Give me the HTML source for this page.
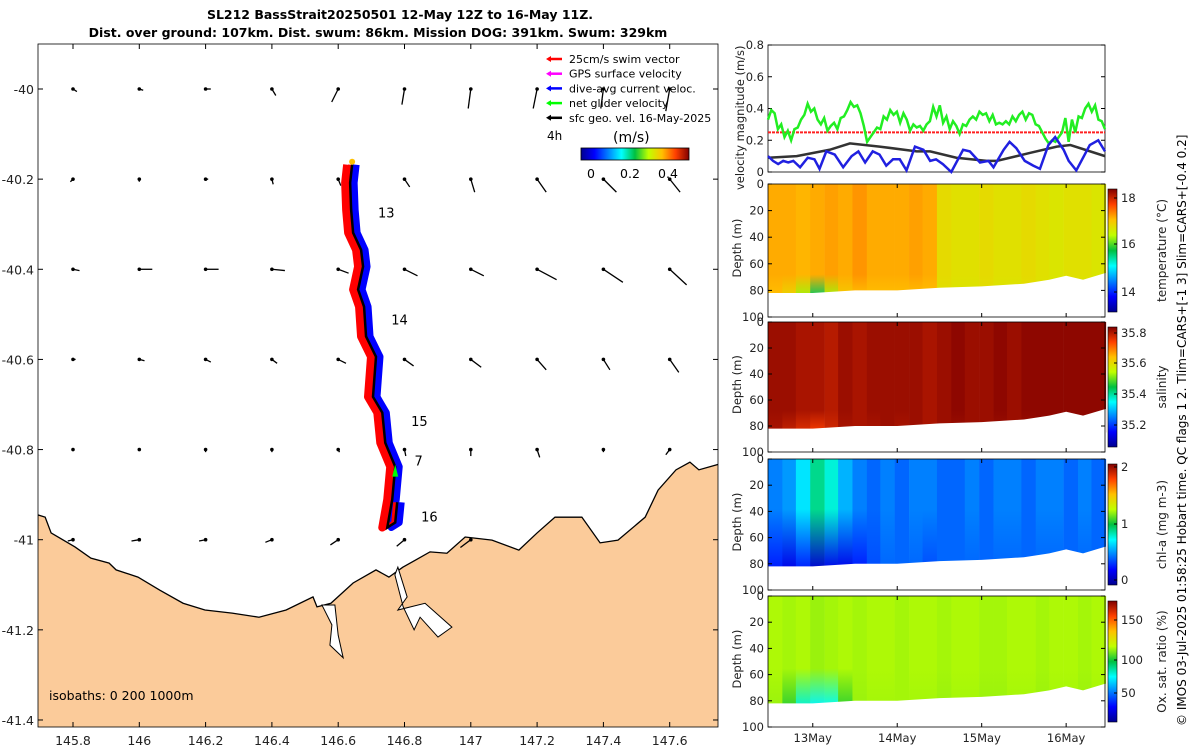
<!DOCTYPE html>
<html><head><meta charset="utf-8"><style>
body{margin:0;background:#fff;}
svg{display:block;font-family:"DejaVu Sans","Liberation Sans",sans-serif;}
</style></head><body>
<svg id="fig" width="1200" height="750" viewBox="0 0 1200 750" xmlns="http://www.w3.org/2000/svg">
<defs>
<linearGradient id="jet" x1="0" x2="1" y1="0" y2="0">
<stop offset="0" stop-color="#00008f"/><stop offset="0.125" stop-color="#0000ff"/><stop offset="0.375" stop-color="#00ffff"/><stop offset="0.5" stop-color="#00c040"/><stop offset="0.625" stop-color="#c0ff00"/><stop offset="0.75" stop-color="#ffc000"/><stop offset="0.875" stop-color="#ff4000"/><stop offset="1" stop-color="#800000"/>
</linearGradient>
<linearGradient id="jetv" x1="0" x2="0" y1="1" y2="0">
<stop offset="0" stop-color="#00008f"/><stop offset="0.125" stop-color="#0000ff"/><stop offset="0.375" stop-color="#00ffff"/><stop offset="0.5" stop-color="#00c040"/><stop offset="0.625" stop-color="#c0ff00"/><stop offset="0.75" stop-color="#ffc000"/><stop offset="0.875" stop-color="#ff4000"/><stop offset="1" stop-color="#800000"/>
</linearGradient>
<clipPath id="mapclip"><rect x="38" y="44" width="680" height="683"/></clipPath>
</defs>
<text x="400" y="19" font-size="12.5" font-weight="bold" text-anchor="middle">SL212 BassStrait20250501 12-May 12Z to 16-May 11Z.</text>
<text x="378" y="37" font-size="12.5" font-weight="bold" text-anchor="middle">Dist. over ground: 107km. Dist. swum: 86km. Mission DOG: 391km. Swum: 329km</text>
<g id="map"></g>
<g id="right"></g>
<text transform="translate(1186,726) rotate(-90)" font-size="12">© IMOS 03-Jul-2025 01:58:25 Hobart time. QC flags 1  2. Tlim=CARS+[-1 3] Slim=CARS+[-0.4 0.2]</text>
</svg>
<script>
// ---------- data ----------
const lonTicks=[145.8,146,146.2,146.4,146.6,146.8,147,147.2,147.4,147.6];
const latTicks=[-40,-40.2,-40.4,-40.6,-40.8,-41,-41.2,-41.4];
const arrowLons=[145.8,146,146.2,146.4,146.6,146.8,147,147.2,147.4,147.6];
const arrowLats=[-40,-40.2,-40.4,-40.6,-40.8,-41];
const arrowU=[[-0.03,-0.03,-0.04,-0.03,0.05,0.02,0.02,0.03,0.02,0.03],[0.02,0,-0.02,-0.01,-0.02,-0.04,-0.03,-0.07,-0.1,-0.08],[-0.05,-0.1,-0.1,-0.1,-0.08,-0.1,-0.1,-0.15,-0.15,-0.13],[-0.02,-0.04,-0.04,-0.04,-0.06,-0.07,-0.08,-0.07,-0.05,-0.07],[0,0,0,0,-0.01,-0.01,0,-0.02,0,0.03],[0.04,0.06,0.05,0.05,0.06,0.06,0.08,0,0,0]];
const arrowV=[[0.02,0.01,0,0.05,0.1,0.12,0.15,0.15,0.15,0.17],[0.02,0.02,0,0.04,0.05,0.06,0.1,0.1,0.1,0.1],[0.01,0,0,0.01,0.03,0.05,0.05,0.08,0.1,0.12],[0,0.01,0.02,0.03,0.03,0.05,0.06,0.08,0.08,0.1],[0.01,0.01,0.02,0.02,0.02,0.05,0.05,0.06,0.02,0.04],[0.01,0.01,0.01,0.02,0.04,0.05,0.06,0,0,0]];
const coastLon=[145.694,145.716,145.734,145.806,145.854,145.909,145.930,145.996,146.062,146.132,146.198,146.280,146.361,146.443,146.524,146.536,146.578,146.645,146.714,146.753,146.795,146.834,146.877,146.928,146.983,147.064,147.145,147.200,147.254,147.335,147.390,147.444,147.526,147.565,147.619,147.661,147.688,147.76];
const coastLat=[-40.945,-40.950,-40.985,-41.016,-41.041,-41.052,-41.067,-41.083,-41.112,-41.141,-41.156,-41.163,-41.172,-41.156,-41.127,-41.149,-41.141,-41.096,-41.067,-41.083,-41.061,-41.045,-41.027,-41.030,-40.994,-41.001,-41.023,-40.985,-40.950,-40.950,-41.007,-41.001,-40.950,-40.890,-40.845,-40.828,-40.845,-40.83];
const estLon=[146.771,146.780,146.808,146.780,146.862,146.943,146.901,146.847,146.829,146.796];
const estLat=[-41.078,-41.061,-41.127,-41.156,-41.141,-41.194,-41.216,-41.172,-41.200,-41.149];
const inletLon=[146.551,146.581,146.575,146.615,146.600,146.590];
const inletLat=[-41.145,-41.189,-41.234,-41.262,-41.212,-41.145];
const trackLon=[146.642,146.636,146.639,146.645,146.669,146.675,146.66,146.678,146.684,146.714,146.705,146.733,146.742,146.772,146.763,146.748,146.772,146.778];
const trackLat=[-40.168,-40.208,-40.268,-40.319,-40.357,-40.394,-40.445,-40.483,-40.549,-40.594,-40.683,-40.718,-40.785,-40.838,-40.911,-40.973,-40.962,-40.917];
const dayLabels=["13","14","15","7","16"];
const dayLon=[146.72,146.76,146.82,146.83,146.85];
const dayLat=[-40.285,-40.522,-40.748,-40.835,-40.96];

const tStart=12.47,tEnd=16.46;
const greenV=[0.33,0.39,0.37,0.27,0.3,0.22,0.26,0.2,0.27,0.28,0.33,0.36,0.43,0.38,0.4,0.33,0.3,0.34,0.26,0.29,0.31,0.27,0.34,0.35,0.39,0.44,0.41,0.42,0.37,0.29,0.19,0.22,0.25,0.28,0.27,0.35,0.33,0.39,0.36,0.38,0.31,0.37,0.33,0.26,0.3,0.28,0.29,0.26,0.3,0.32,0.41,0.35,0.42,0.31,0.35,0.27,0.32,0.29,0.24,0.3,0.29,0.33,0.35,0.33,0.38,0.36,0.37,0.32,0.36,0.3,0.31,0.3,0.32,0.3,0.35,0.32,0.36,0.38,0.33,0.37,0.36,0.3,0.29,0.25,0.21,0.18,0.2,0.19,0.22,0.25,0.34,0.19,0.33,0.25,0.35,0.34,0.4,0.43,0.38,0.42,0.33,0.32,0.27];
const blueT=[12.47,12.53,12.59,12.65,12.71,12.77,12.85,12.94,13.02,13.08,13.16,13.26,13.36,13.46,13.54,13.62,13.71,13.79,13.87,13.95,14.03,14.11,14.21,14.31,14.39,14.46,14.54,14.64,14.78,14.86,14.98,15.08,15.14,15.26,15.33,15.41,15.51,15.61,15.69,15.79,15.87,15.97,16.03,16.12,16.22,16.28,16.38,16.46];
const blueV=[0.1,0.07,0.05,0.07,0.06,0.07,0.03,0.09,0.08,0.02,0.13,0.11,0.03,0.1,0.13,0.06,0.13,0.11,0.04,0.08,0.08,0.01,0.16,0.14,0.07,0.08,0.05,0.0,0.14,0.13,0.06,0.07,0.03,0.14,0.19,0.15,0.07,0.04,0.02,0.17,0.22,0.14,0.07,0.01,0.11,0.17,0.2,0.13];
const blackT=[12.47,12.81,13.2,13.44,13.79,14.23,14.39,14.7,15.06,15.18,15.57,15.89,16.05,16.46];
const blackV=[0.09,0.1,0.14,0.18,0.16,0.13,0.13,0.09,0.07,0.07,0.12,0.16,0.17,0.1];
const swimV=0.25;
const velTicks=[0,0.2,0.4,0.6,0.8];
const dateTicks=[13,14,15,16];
const dateLabels=["13May","14May","15May","16May"];

const colT=[12.47,12.64,12.8,12.97,13.14,13.3,13.47,13.64,13.8,13.97,14.14,14.3,14.47,14.64,14.8,14.97,15.14,15.3,15.47,15.64,15.8,15.97,16.14,16.3];
const tempTop=[17.2,17.2,17.15,17.2,17.25,17.2,17.3,17.2,17.2,17.2,17.25,17.2,16.85,16.8,16.8,16.85,16.8,16.8,16.85,16.8,16.75,16.8,16.8,16.75];
const tempBot=[17.1,16.9,16.4,15.8,16.4,17.0,17.1,17.1,17.1,17.1,17.1,17.1,16.8,16.75,16.75,16.8,16.75,16.75,16.8,16.75,16.7,16.75,16.7,16.7];
const salTop=[35.83,35.83,35.82,35.82,35.81,35.83,35.82,35.83,35.83,35.83,35.83,35.82,35.83,35.84,35.83,35.83,35.84,35.83,35.84,35.84,35.84,35.84,35.84,35.84];
const salBot=[35.82,35.8,35.78,35.76,35.79,35.82,35.82,35.82,35.83,35.82,35.83,35.82,35.83,35.83,35.83,35.83,35.83,35.83,35.83,35.84,35.84,35.84,35.84,35.84];
const chlTop=[0.5,0.55,0.7,0.9,0.8,0.6,0.5,0.45,0.5,0.45,0.5,0.5,0.45,0.45,0.5,0.45,0.5,0.5,0.45,0.5,0.5,0.45,0.5,0.45];
const chlBot=[0.3,0.2,0.3,0.15,0.2,0.2,0.3,0.4,0.45,0.45,0.45,0.4,0.45,0.45,0.45,0.45,0.45,0.45,0.45,0.45,0.45,0.45,0.45,0.45];
const oxTop=[117,116,117,115,116,117,116,117,117,116,117,117,116,117,117,116,116,117,117,116,117,117,116,117];
const oxBot=[115,105,85,80,82,105,115,116,116,116,116,116,115,116,116,115,115,116,116,115,116,116,115,116];
const floorT=[12.47,13.0,13.5,14.0,14.5,15.0,15.5,15.8,16.0,16.2,16.46];
const floorD=[82,82,80,80,78,77,75,72,69,72,67];
const depthTicks=[0,20,40,60,80,100];

// ---------- helpers ----------
const NS="http://www.w3.org/2000/svg";
function mk(tag,attrs,parent){const e=document.createElementNS(NS,tag);for(const k in attrs)e.setAttribute(k,attrs[k]);parent.appendChild(e);return e;}
function jet(f){f=Math.max(0,Math.min(1,f));const st=[[0,0,0,143],[0.125,0,0,255],[0.375,0,255,255],[0.5,0,192,64],[0.625,192,255,0],[0.75,255,192,0],[0.875,255,64,0],[1,128,0,0]];
for(let i=1;i<st.length;i++){if(f<=st[i][0]){const a=st[i-1],b=st[i],u=(f-a[0])/(b[0]-a[0]);return `rgb(${Math.round(a[1]+u*(b[1]-a[1]))},${Math.round(a[2]+u*(b[2]-a[2]))},${Math.round(a[3]+u*(b[3]-a[3]))})`;}}return "rgb(128,0,0)";}

// ---------- map ----------
const map=document.getElementById('map');
const mx=lon=>73+(lon-145.8)*331.5, my=lat=>89+(-40-lat)*450.7;
const mg=mk('g',{'clip-path':'url(#mapclip)'},map);
mk('rect',{x:38,y:44,width:680,height:683,fill:'#fff'},mg);
let cp=coastLon.map((l,i)=>mx(l)+','+my(coastLat[i])).join(' ');
cp+=' 725,730 35,730';
const land=mk('polygon',{points:cp,fill:'#fbcb9a',stroke:'#000','stroke-width':1.3},mg);


const est=mk('polygon',{points:estLon.map((l,i)=>mx(l)+','+my(estLat[i])).join(' '),fill:'#fff',stroke:'#000','stroke-width':1},mg);


const inl=mk('polygon',{points:inletLon.map((l,i)=>mx(l)+','+my(inletLat[i])).join(' '),fill:'#fff',stroke:'#000','stroke-width':1},mg);


// arrows
arrowLats.forEach((la,r)=>arrowLons.forEach((lo,c)=>{
  const u=arrowU[r][c],v=arrowV[r][c]; if(u===0&&v===0)return;
  const x=mx(lo),y=my(la),dx=u*130,dy=-v*130;
  const a=mk('g',{},mg);
  
  
  mk('line',{x1:x-dx,y1:y-dy,x2:x,y2:y,stroke:'#000','stroke-width':1.3},a);
  mk('circle',{cx:x,cy:y,r:1.8,fill:'#000'},a);
}));
// track bands
const tp=trackLon.map((l,i)=>[mx(l),my(trackLat[i])]);
const red=mk('polyline',{points:tp.map(p=>(p[0]-5)+','+p[1]).join(' '),fill:'none',stroke:'#ff0000','stroke-width':8,'stroke-linejoin':'round'},mg);


const blue=mk('polyline',{points:tp.map(p=>(p[0]+4)+','+p[1]).join(' '),fill:'none',stroke:'#0000ff','stroke-width':7,'stroke-linejoin':'round'},mg);


mk('polyline',{points:tp.map(p=>(p[0]-2)+','+p[1]).join(' '),fill:'none',stroke:'#ff0000','stroke-width':4},mg);
const trk=mk('polyline',{points:tp.map(p=>p.join(',')).join(' '),fill:'none',stroke:'#000','stroke-width':2.5},mg);


mk('polygon',{points:`${tp[13][0]-3},${tp[13][1]+10} ${tp[13][0]},${tp[13][1]-2} ${tp[13][0]+3},${tp[13][1]+10}`,fill:'#00ff00'},mg);
mk('circle',{cx:tp[0][0],cy:tp[0][1]-3,r:3,fill:'#ffc000'},mg);
dayLabels.forEach((d,i)=>{const t=mk('text',{x:mx(dayLon[i]),y:my(dayLat[i]),'font-size':13},mg);t.textContent=d;

});
const iso=mk('text',{x:49,y:700,'font-size':12.5},mg);iso.textContent='isobaths: 0   200  1000m';


// legend
const leg=[['#ff0000','25cm/s swim vector'],['#ff00ff','GPS surface velocity'],['#0000ff','dive-avg current veloc.'],['#00ff00','net glider velocity'],['#000','sfc geo. vel. 16-May-2025']];
leg.forEach((l,i)=>{const g=mk('g',{},map);


const y=63+i*14.7;mk('line',{x1:548,y1:y-4,x2:562,y2:y-4,stroke:l[0],'stroke-width':2.5},g);
mk('polygon',{points:`546,${y-4} 551,${y-7} 551,${y-1}`,fill:l[0]},g);
const t=mk('text',{x:569,y:y,'font-size':11},g);t.textContent=l[1];});
let t4=mk('text',{x:547,y:140,'font-size':12},map);t4.textContent='4h';
let tu=mk('text',{x:613,y:142,'font-size':14},map);tu.textContent='(m/s)';
const cb=mk('rect',{x:581,y:148,width:108,height:12,fill:'url(#jet)',stroke:'#000','stroke-width':0.8},map);


[['0',591],['0.2',630],['0.4',668]].forEach(a=>{const t=mk('text',{x:a[1],y:178,'font-size':12.5,'text-anchor':'middle'},map);t.textContent=a[0];});
// axes
mk('rect',{x:38,y:44,width:680,height:683,fill:'none',stroke:'#000','stroke-width':0.8},map);
lonTicks.forEach(l=>{const x=mx(l);mk('line',{x1:x,y1:727,x2:x,y2:722,stroke:'#000'},map);mk('line',{x1:x,y1:44,x2:x,y2:49,stroke:'#000'},map);
const t=mk('text',{x:x,y:745,'font-size':12.5,'text-anchor':'middle',fill:'#222'},map);t.textContent=String(l);

});
latTicks.forEach(l=>{const y=my(l);mk('line',{x1:38,y1:y,x2:43,y2:y,stroke:'#000'},map);mk('line',{x1:718,y1:y,x2:713,y2:y,stroke:'#000'},map);
const t=mk('text',{x:34,y:y+5,'font-size':12.5,'text-anchor':'end',fill:'#222'},map);t.textContent=String(l);

});

// ---------- right panels ----------
const R=document.getElementById('right');
const X0=768,X1=1105;
const tx=t=>X0+(t-tStart)/(tEnd-tStart)*(X1-X0);
const vy=v=>172-v/0.8*127;
const vg=mk('g',{},R);


mk('rect',{x:X0,y:45,width:X1-X0,height:127,fill:'#fff',stroke:'#000','stroke-width':0.8},vg);
velTicks.forEach(v=>{mk('line',{x1:X0,y1:vy(v),x2:X0+4,y2:vy(v),stroke:'#000'},vg);mk('line',{x1:X1,y1:vy(v),x2:X1-4,y2:vy(v),stroke:'#000'},vg);
const t=mk('text',{x:X0-4,y:vy(v)+4,'font-size':11.5,'text-anchor':'end',fill:'#222'},vg);t.textContent=String(v);});
const sw=mk('line',{x1:X0,y1:vy(swimV),x2:X1,y2:vy(swimV),stroke:'#ff2020','stroke-width':2,'stroke-dasharray':'3,1'},vg);


const gl=mk('polyline',{points:greenV.map((v,i)=>tx(tStart+i*(tEnd-tStart)/(greenV.length-1))+','+vy(v)).join(' '),fill:'none',stroke:'#22ee22','stroke-width':2.5},vg);


const kl=mk('polyline',{points:blackT.map((t,i)=>tx(t)+','+vy(blackV[i])).join(' '),fill:'none',stroke:'#333','stroke-width':2.5},vg);


const bl=mk('polyline',{points:blueT.map((t,i)=>tx(t)+','+vy(blueV[i])).join(' '),fill:'none',stroke:'#2020e0','stroke-width':2.5},vg);


const vlab=mk('text',{transform:'translate(744,190) rotate(-90)','font-size':11.5,fill:'#222'},vg);vlab.textContent='velocity magnitude (m/s)';



const panels=[
 {name:'temperature',top:tempTop,bot:tempBot,min:13.5,max:18.3,y0:184,y1:317,cb:[[14,292],[16,244],[18,198]],label:'temperature (°C)',split:0.8},
 {name:'salinity',top:salTop,bot:salBot,min:35.1,max:35.85,y0:322,y1:452,cb:[[35.2,425],[35.4,394],[35.6,363],[35.8,333]],label:'salinity',split:0.8},
 {name:'chl-a',top:chlTop,bot:chlBot,min:0,max:2,y0:459,y1:590,cb:[[0,580],[1,524],[2,467]],label:'chl-a (mg m-3)',split:0.45},
 {name:'oxygen',top:oxTop,bot:oxBot,min:25,max:175,y0:596,y1:727,cb:[[50,693],[100,660],[150,620]],label:'Ox. sat. ratio (%)',split:0.65}];
const defs=document.querySelector('defs');
panels.forEach((p,pi)=>{
 const g=mk('g',{},R);
 
 
 const dy=d=>p.y0+d/100*(p.y1-p.y0);
 const cw=(X1-X0)/colT.length;
 colT.forEach((t,i)=>{
  const id='gr'+pi+'_'+i;
  const lg=mk('linearGradient',{id:id,x1:0,x2:0,y1:0,y2:1},defs);
  mk('stop',{offset:p.split,'stop-color':jet((p.top[i]-p.min)/(p.max-p.min))},lg);
  mk('stop',{offset:1,'stop-color':jet((p.bot[i]-p.min)/(p.max-p.min))},lg);
  const c=mk('rect',{x:tx(t),y:dy(0),width:cw+0.6,height:dy(85)-dy(0),fill:`url(#${id})`},g);
  
  
 });
 let fp=floorT.map((t,i)=>tx(t)+','+dy(floorD[i])).join(' ');
 fp+=` ${X1+1},${dy(floorD[floorD.length-1])} ${X1+1},${dy(100)} ${X0},${dy(100)} ${X0},${dy(floorD[0])}`;
 const fl=mk('polygon',{points:fp,fill:'#fff'},g);
 
 
 mk('rect',{x:X0,y:p.y0,width:X1-X0,height:p.y1-p.y0,fill:'none',stroke:'#000','stroke-width':0.8},g);
 depthTicks.forEach(d=>{mk('line',{x1:X0,y1:dy(d),x2:X0+4,y2:dy(d),stroke:'#000'},g);mk('line',{x1:X1,y1:dy(d),x2:X1-4,y2:dy(d),stroke:'#000'},g);
  const t=mk('text',{x:X0-4,y:dy(d)+4,'font-size':11.5,'text-anchor':'end',fill:'#222'},g);t.textContent=String(d);});
 dateTicks.forEach(d=>{mk('line',{x1:tx(d),y1:p.y1,x2:tx(d),y2:p.y1-4,stroke:'#000'},g);mk('line',{x1:tx(d),y1:p.y0,x2:tx(d),y2:p.y0+4,stroke:'#000'},g);});
 const yl=mk('text',{transform:`translate(741,${(p.y0+p.y1)/2+27}) rotate(-90)`,'font-size':11.5,fill:'#222'},g);yl.textContent='Depth (m)';
 const cbar=mk('rect',{x:1108,y:p.y0+5,width:9,height:p.y1-p.y0-10,fill:'url(#jetv)',stroke:'#000','stroke-width':0.6},g);
 
 
 p.cb.forEach(c=>{mk('line',{x1:1117,y1:c[1],x2:1114,y2:c[1],stroke:'#000'},g);const t=mk('text',{x:1121,y:c[1]+4,'font-size':11.5,fill:'#222'},g);t.textContent=String(c[0]);});
 const cl=mk('text',{transform:`translate(1166,${(p.y0+p.y1)/2}) rotate(-90)`,'font-size':12,'text-anchor':'middle',fill:'#222'},g);cl.textContent=p.label;
});
dateTicks.forEach((d,i)=>{const t=mk('text',{x:tx(d),y:742,'font-size':11.5,'text-anchor':'middle',fill:'#222'},R);t.textContent=dateLabels[i];

});
</script>
</body></html>
